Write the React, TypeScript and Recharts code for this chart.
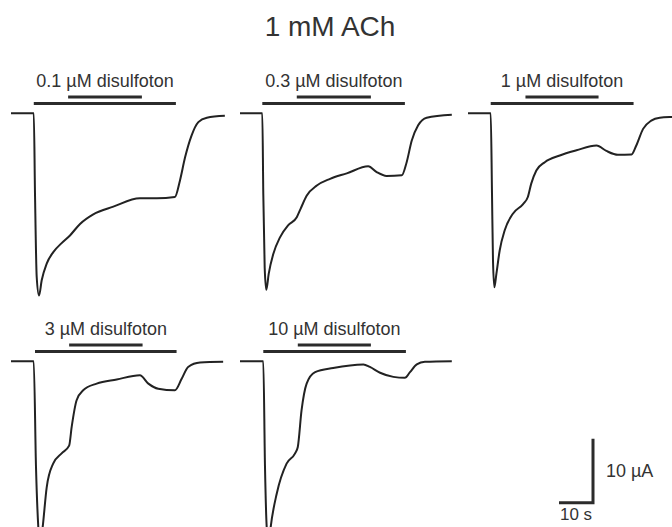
import { LineChart, Line, XAxis, YAxis, ReferenceLine } from 'recharts';

// Oocyte current traces, 1 mM ACh with increasing disulfoton.
// time in s from start of trace, current in µA (baseline = 0)
const trace1Time = [0, 6.7, 7.06, 7.56, 8.24, 9.03, 10.5, 12.44, 14.9, 17.35, 20.3, 24.2, 30.1, 37.9, 42.9, 48.2, 49.7, 51.2, 53.1, 55.1, 57.6, 62.9];
const trace1Current = [0, 0, -12.6, -25.6, -28.5, -26.1, -23.5, -21.7, -20.3, -19.1, -17.3, -15.8, -14.6, -13.3, -13.3, -13.1, -10.5, -6.9, -3.5, -1.4, -0.7, -0.4];

const trace2Time = [0, 6.56, 6.85, 7.26, 7.74, 8.44, 9.79, 11.76, 14.2, 16.7, 17.85, 19.6, 22.6, 26.5, 31.4, 37.7, 40.2, 43.1, 47.6, 49.0, 50.5, 52.4, 54.9, 62.3];
const trace2Current = [0, 0, -12.6, -24.1, -27.6, -25.1, -22.0, -19.4, -17.5, -16.25, -14.9, -12.9, -11.3, -10.25, -9.4, -8.3, -9.2, -9.8, -9.7, -7.7, -4.3, -1.9, -0.7, -0.25];

const trace3Time = [0, 6.68, 7.06, 7.35, 7.76, 8.35, 9.32, 10.8, 13.2, 16.2, 17.6, 18.6, 20.1, 22.6, 27.0, 31.9, 37.8, 40.7, 44.1, 48.1, 49.5, 51.5, 53.9, 56.4, 59.9, 65.0];
const trace3Current = [0, 0, -12.6, -23.0, -27.2, -25.1, -21.45, -18.3, -15.7, -14.2, -13.1, -11.0, -8.95, -7.65, -6.6, -5.8, -5.05, -5.9, -6.5, -6.45, -5.05, -2.45, -1.15, -0.7, -0.6, -0.55];

const trace4Time = [0, 6.68, 7.35, 8.03, 8.6, 9.32, 10.5, 12.4, 14.9, 17.1, 17.85, 19.3, 21.3, 25.2, 31.1, 37.9, 40.4, 43.3, 48.2, 50.2, 52.1, 55.6, 62.4];
const trace4Current = [0, 0, -16.5, -25.9, -28.8, -25.9, -19.7, -16.0, -14.4, -13.2, -10.25, -6.1, -4.5, -3.5, -2.85, -2.2, -3.5, -4.3, -4.55, -2.75, -0.9, -0.2, -0.1];

const trace5Time = [0, 6.85, 7.35, 7.85, 8.44, 9.03, 10.8, 13.7, 16.2, 17.0, 18.1, 19.6, 22.1, 27.4, 36.3, 38.2, 41.2, 45.1, 48.5, 50.0, 52.0, 54.4, 62.3];
const trace5Current = [0, 0, -16.5, -25.9, -28.8, -25.9, -20.7, -16.0, -14.4, -13.4, -7.7, -3.5, -1.7, -1.05, -0.5, -0.9, -1.8, -2.45, -2.6, -1.7, -0.5, -0.1, 0];

const doseLabels = ['0.1 µM disulfoton', '0.3 µM disulfoton', '1 µM disulfoton', '3 µM disulfoton', '10 µM disulfoton'];
// application bars (s)
const achStart = [6.7, 6.56, 6.68, 7.06, 6.85];
const achEnd = [48.5, 48.5, 48.7, 48.7, 48.8];
const drugStart = [16.8, 16.7, 16.9, 17.1, 17.0];
const drugEnd = [38.5, 38.5, 38.4, 38.7, 38.5];

const scaleTime = [0, 10, 10];
const scaleCurrent = [0, 0, 10];

const traces = [
  [trace1Time, trace1Current],
  [trace2Time, trace2Current],
  [trace3Time, trace3Current],
  [trace4Time, trace4Current],
  [trace5Time, trace5Current],
];

const PX_PER_S = 3.4;
const PX_PER_UA = 6.4;
const T_MAX = 66;
const I_MIN = -32;
const I_MAX = 8;
const ACH_BAR_Y = 1.5;
const DRUG_BAR_Y = 2.55;

// where t=0 / I=0 of each panel lands on the page
const panelX = [11, 240, 468.3, 11, 240];
const panelY = [112.7, 112.7, 112.7, 361, 361];

const ink = '#2b2b2b';

function TracePanel({ index }: { index: number }) {
  const [time, current] = traces[index];
  const data = time.map((t, i) => ({ t, i: current[i] }));
  const width = T_MAX * PX_PER_S;
  const height = (I_MAX - I_MIN) * PX_PER_UA;

  return (
    <div style={{ position: 'absolute', left: panelX[index], top: panelY[index] - I_MAX * PX_PER_UA }}>
      <LineChart width={width} height={height} data={data} margin={{ top: 0, right: 0, left: 0, bottom: 0 }}>
        <XAxis dataKey="t" type="number" domain={[0, T_MAX]} hide />
        <YAxis type="number" domain={[I_MIN, I_MAX]} hide />
        <ReferenceLine
          segment={[{ x: achStart[index], y: ACH_BAR_Y }, { x: achEnd[index], y: ACH_BAR_Y }]}
          stroke={ink}
          strokeWidth={3}
        />
        <ReferenceLine
          segment={[{ x: drugStart[index], y: DRUG_BAR_Y }, { x: drugEnd[index], y: DRUG_BAR_Y }]}
          stroke={ink}
          strokeWidth={3}
          label={{ value: doseLabels[index], position: 'top', offset: 10, fill: '#333', fontSize: 18 }}
        />
        <Line
          type="monotone"
          dataKey="i"
          stroke="#222"
          strokeWidth={2}
          dot={false}
          isAnimationActive={false}
        />
      </LineChart>
    </div>
  );
}

function ScaleBar() {
  const data = scaleTime.map((t, i) => ({ t, i: scaleCurrent[i] }));
  const left = 559;
  const zeroY = 503;
  return (
    <div style={{ position: 'absolute', left, top: zeroY - 12 * PX_PER_UA }}>
      <LineChart width={30 * PX_PER_S} height={16 * PX_PER_UA} data={data} margin={{ top: 0, right: 0, left: 0, bottom: 0 }}>
        <XAxis dataKey="t" type="number" domain={[0, 30]} hide />
        <YAxis type="number" domain={[-4, 12]} hide />
        <Line type="linear" dataKey="i" stroke={ink} strokeWidth={3} dot={false} isAnimationActive={false} />
        <ReferenceLine
          segment={[{ x: 0, y: 0 }, { x: 10, y: 0 }]}
          stroke="none"
          label={{ value: '10 s', position: 'bottom', offset: 5, fill: '#333', fontSize: 17 }}
        />
        <ReferenceLine
          segment={[{ x: 10, y: 0 }, { x: 10, y: 10 }]}
          stroke="none"
          label={{ value: '10 µA', position: 'right', offset: 13, fill: '#333', fontSize: 18 }}
        />
      </LineChart>
    </div>
  );
}

export default function App() {
  return (
    <div
      style={{
        position: 'absolute',
        left: 0,
        top: 0,
        width: 672,
        height: 527,
        overflow: 'hidden',
        background: '#fff',
        fontFamily: '"Liberation Sans", Arial, sans-serif',
      }}
    >
      <div
        style={{
          position: 'absolute',
          left: 0,
          width: 660,
          top: 10,
          textAlign: 'center',
          fontSize: 28,
          lineHeight: '34px',
          color: '#333',
        }}
      >
        1 mM ACh
      </div>
      {traces.map((_, i) => (
        <TracePanel key={i} index={i} />
      ))}
      <ScaleBar />
    </div>
  );
}
